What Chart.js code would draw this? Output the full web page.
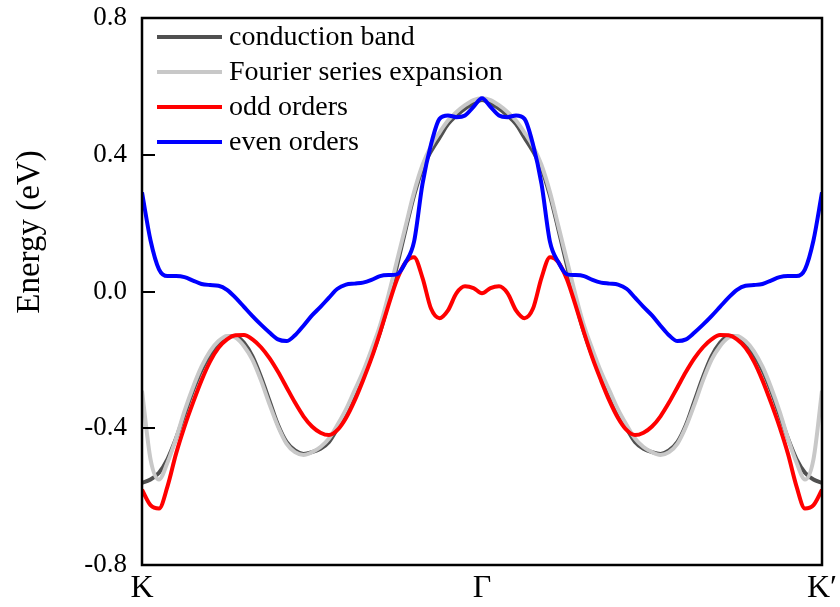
<!DOCTYPE html>
<html>
<head>
<meta charset="utf-8">
<script src="https://cdn.jsdelivr.net/npm/chart.js@4/dist/chart.umd.min.js"></script>
<style>
  html, body { margin: 0; padding: 0; background: #fff; }
  #wrap { width: 840px; height: 607px; }
</style>
</head>
<body>
<div id="wrap"><canvas id="bands"></canvas></div>
<script>
// k path K -> Γ -> K', sampled at 81 points
const kPath = Array.from({ length: 81 }, (_, i) => i / 80);
const kLabels = ["K", "Γ", "K′"];
const kTicks = [0, 0.5, 1];
const energyTicks = [-0.8, -0.4, 0.0, 0.4, 0.8];

const conductionBand = [
  -0.56, -0.55, -0.53, -0.49, -0.43, -0.36, -0.29, -0.23, -0.185, -0.15,
  -0.133, -0.13, -0.15, -0.19, -0.25, -0.32, -0.39, -0.44, -0.465, -0.475,
  -0.47, -0.46, -0.44, -0.40, -0.355, -0.30, -0.245, -0.19, -0.12, -0.03,
  0.075, 0.18, 0.28, 0.36, 0.41, 0.45, 0.49, 0.515, 0.535, 0.55,
  0.56,
  0.55, 0.535, 0.515, 0.49, 0.45, 0.41, 0.36, 0.28, 0.18, 0.075,
  -0.03, -0.12, -0.19, -0.245, -0.30, -0.355, -0.40, -0.44, -0.46, -0.47,
  -0.475, -0.465, -0.44, -0.39, -0.32, -0.25, -0.19, -0.15, -0.13, -0.133,
  -0.15, -0.185, -0.23, -0.29, -0.36, -0.43, -0.49, -0.53, -0.55, -0.56
];

const fourierSeries = [
  -0.29, -0.49, -0.55, -0.50, -0.43, -0.35, -0.28, -0.22, -0.175, -0.145,
  -0.13, -0.135, -0.16, -0.20, -0.26, -0.33, -0.395, -0.445, -0.47, -0.478,
  -0.47, -0.455, -0.43, -0.39, -0.345, -0.29, -0.235, -0.17, -0.10, -0.01,
  0.09, 0.19, 0.29, 0.37, 0.425, 0.465, 0.50, 0.525, 0.545, 0.56,
  0.565,
  0.56, 0.545, 0.525, 0.50, 0.465, 0.425, 0.37, 0.29, 0.19, 0.09,
  -0.01, -0.10, -0.17, -0.235, -0.29, -0.345, -0.39, -0.43, -0.455, -0.47,
  -0.478, -0.47, -0.445, -0.395, -0.33, -0.26, -0.20, -0.16, -0.135, -0.13,
  -0.145, -0.175, -0.22, -0.28, -0.35, -0.43, -0.50, -0.55, -0.49, -0.29
];

const oddOrders = [
  -0.58, -0.625, -0.635, -0.57, -0.475, -0.395, -0.325, -0.26, -0.205, -0.165,
  -0.14, -0.128, -0.127, -0.14, -0.163, -0.195, -0.235, -0.28, -0.325, -0.365,
  -0.395, -0.413, -0.42, -0.405, -0.37, -0.32, -0.26, -0.195, -0.12, -0.04,
  0.035, 0.085, 0.10, 0.04, -0.05, -0.078, -0.055, -0.005, 0.015, 0.01,
  -0.005,
  0.01, 0.015, -0.005, -0.055, -0.078, -0.05, 0.04, 0.10, 0.085, 0.035,
  -0.04, -0.12, -0.195, -0.26, -0.32, -0.37, -0.405, -0.42, -0.413, -0.395,
  -0.365, -0.325, -0.28, -0.235, -0.195, -0.163, -0.14, -0.127, -0.128, -0.14,
  -0.165, -0.205, -0.26, -0.325, -0.395, -0.475, -0.57, -0.635, -0.625, -0.58
];

const evenOrders = [
  0.29, 0.15, 0.065, 0.045, 0.045, 0.042, 0.032, 0.022, 0.019, 0.017,
  0.005, -0.018, -0.045, -0.072, -0.097, -0.12, -0.14, -0.145, -0.128, -0.10,
  -0.07, -0.045, -0.018, 0.008, 0.02, 0.023, 0.026, 0.034, 0.045, 0.048,
  0.05, 0.085, 0.145, 0.315, 0.43, 0.505, 0.515, 0.51, 0.515, 0.54,
  0.565,
  0.54, 0.515, 0.51, 0.515, 0.505, 0.43, 0.315, 0.145, 0.085, 0.05,
  0.048, 0.045, 0.034, 0.026, 0.023, 0.02, 0.008, -0.018, -0.045, -0.07,
  -0.10, -0.128, -0.145, -0.14, -0.12, -0.097, -0.072, -0.045, -0.018, 0.005,
  0.017, 0.019, 0.022, 0.032, 0.042, 0.045, 0.045, 0.065, 0.15, 0.29
];

const SERIF = '"Liberation Serif", "DejaVu Serif", serif';

function band(label, data, color, order) {
  return {
    label,
    data,
    borderColor: color,
    backgroundColor: color,
    borderWidth: 4,
    pointRadius: 0,
    cubicInterpolationMode: "monotone",
    fill: false,
    order,
  };
}

// frame, inward ticks, legend and rotated y title
const decorations = {
  id: "decorations",
  afterDraw(chart) {
    const { ctx, chartArea: a, scales } = chart;
    ctx.save();
    ctx.strokeStyle = "#000";
    ctx.lineWidth = 2.5;
    ctx.strokeRect(a.left, a.top, a.right - a.left, a.bottom - a.top);

    ctx.lineWidth = 2;
    energyTicks.forEach((v) => {
      const y = Math.round(scales.y.getPixelForValue(v));
      ctx.beginPath();
      ctx.moveTo(a.left, y);
      ctx.lineTo(a.left + 13, y);
      ctx.stroke();
    });

    ctx.font = "28px " + SERIF;
    ctx.textBaseline = "middle";
    ctx.textAlign = "left";
    chart.data.datasets.forEach((ds, i) => {
      const y = a.top + 19 + i * 35;
      ctx.strokeStyle = ds.borderColor;
      ctx.lineWidth = 4;
      ctx.beginPath();
      ctx.moveTo(a.left + 15, y);
      ctx.lineTo(a.left + 80, y);
      ctx.stroke();
      ctx.fillStyle = "#000";
      ctx.fillText(ds.label, a.left + 87, y + 1);
    });

    ctx.translate(30, 232);
    ctx.rotate(-Math.PI / 2);
    ctx.textAlign = "center";
    ctx.font = "33px " + SERIF;
    ctx.fillText("Energy (eV)", 0, 0);
    ctx.restore();
  },
};

new Chart(document.getElementById("bands"), {
  type: "line",
  data: {
    labels: kPath,
    datasets: [
      band("conduction band", conductionBand, "#505050", 4),
      band("Fourier series expansion", fourierSeries, "#c8c8c8", 3),
      band("odd orders", oddOrders, "#ff0000", 2),
      band("even orders", evenOrders, "#0000ff", 1),
    ],
  },
  options: {
    responsive: true,
    maintainAspectRatio: false,
    animation: false,
    layout: { padding: { top: 18, right: 18, left: 0, bottom: 0 } },
    plugins: {
      legend: { display: false },
      tooltip: { enabled: false },
    },
    scales: {
      x: {
        type: "linear",
        min: 0,
        max: 1,
        afterBuildTicks: (scale) => {
          scale.ticks = kTicks.map((value) => ({ value }));
        },
        afterFit: (scale) => {
          scale.height = 42;
          scale.paddingLeft = 0;
          scale.paddingRight = 0;
        },
        ticks: {
          autoSkip: false,
          maxRotation: 0,
          padding: 4,
          color: "#000",
          font: { family: SERIF, size: 32 },
          callback: (v) => kLabels[kTicks.indexOf(v)],
        },
        grid: { display: false, drawTicks: false },
        border: { display: false },
      },
      y: {
        min: -0.8,
        max: 0.8,
        afterBuildTicks: (scale) => {
          scale.ticks = energyTicks.map((value) => ({ value }));
        },
        afterFit: (scale) => {
          scale.width = 142;
          scale.paddingTop = 0;
          scale.paddingBottom = 0;
        },
        ticks: {
          padding: 15,
          color: "#000",
          font: { family: SERIF, size: 27 },
          callback: (v) => (Math.round(v * 10) / 10).toFixed(1),
        },
        grid: { display: false, drawTicks: false },
        border: { display: false },
      },
    },
  },
  plugins: [decorations],
});
</script>
</body>
</html>
